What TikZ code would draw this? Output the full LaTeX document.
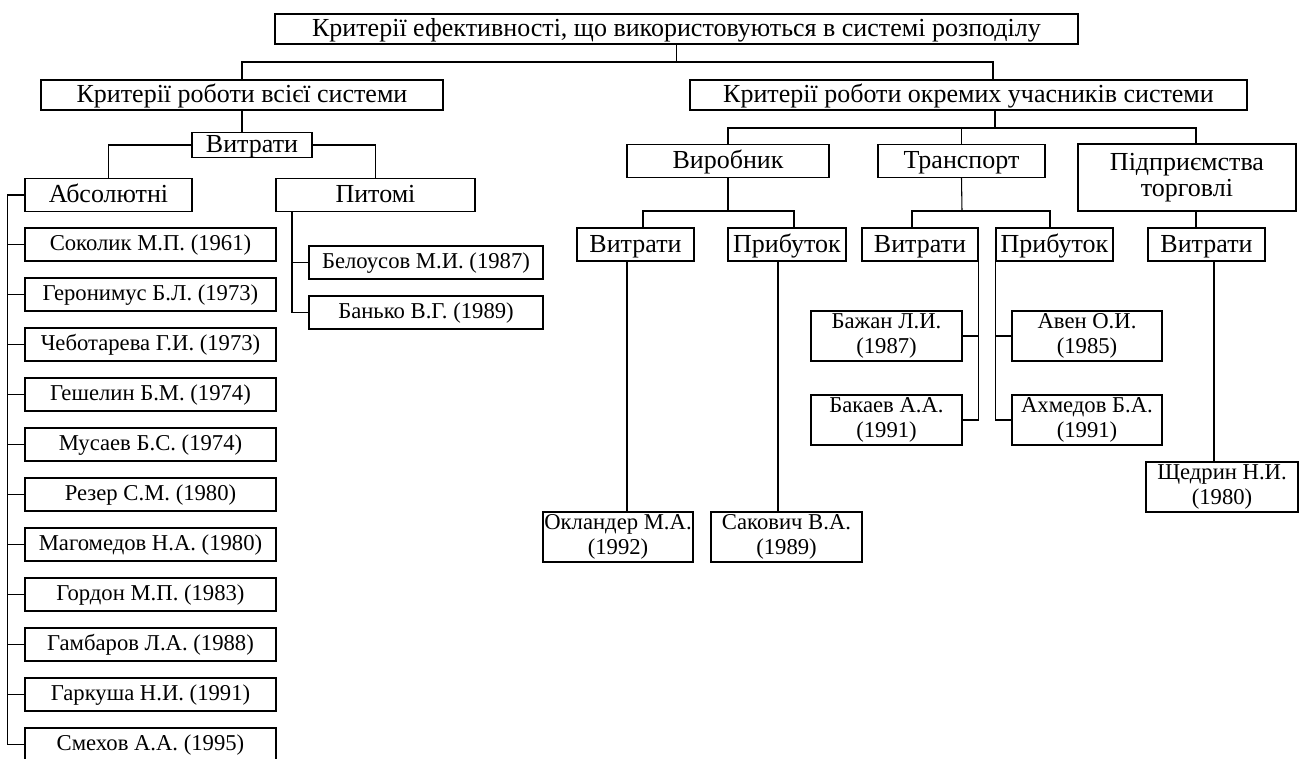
\documentclass[tikz,border=0pt]{standalone}
\usepackage{fontspec}
\setmainfont{Liberation Serif}
\begin{document}
\begin{tikzpicture}[x=0.75pt,y=-0.75pt,line width=0.8pt,
    box/.style={draw, inner sep=0pt, font=\fontsize{19.5}{21}\selectfont, text height=15pt, text depth=3.8pt, minimum height=22.5pt},
    sub/.style={draw, inner sep=0pt, font=\fontsize{19.5}{21}\selectfont, text height=15.4pt, text depth=3.8pt, minimum height=24.75pt},
    person/.style={draw, inner sep=0pt, font=\fontsize{17}{18}\selectfont, text height=13pt, text depth=3.6pt, minimum width=188.25pt, minimum height=24.75pt},
    twoline/.style={draw, inner sep=0pt, align=center, font=\fontsize{17}{19}\selectfont, minimum height=37.5pt}]
    \useasboundingbox (0,0) rectangle (1300,758);
    \node[box, minimum width=602.25pt] (top) at (676.5,29) {Критерії ефективності, що використовуються в системі розподілу};
    \node[box, minimum width=301.5pt] (sys) at (242,95) {Критерії роботи всієї системи};
    \node[box, minimum width=417.75pt] (part) at (968.5,95) {Критерії роботи окремих учасників системи};
    \node[box, minimum width=90pt, minimum height=18.75pt] (vyt) at (252,145) {Витрати};
    \node[sub, minimum width=125.25pt] (abs) at (108.5,195) {Абсолютні};
    \node[sub, minimum width=149.25pt] (pyt) at (375.5,195) {Питомі};
    \node[person] (n1) at (150.5,244.5) {Соколик М.П. (1961)};
    \node[person] (n2) at (150.5,294.5) {Геронимус Б.Л. (1973)};
    \node[person] (n3) at (150.5,344.5) {Чеботарева Г.И. (1973)};
    \node[person] (n4) at (150.5,394.5) {Гешелин Б.М. (1974)};
    \node[person] (n5) at (150.5,444.5) {Мусаев Б.С. (1974)};
    \node[person] (n6) at (150.5,494.5) {Резер С.М. (1980)};
    \node[person] (n7) at (150.5,544.5) {Магомедов Н.А. (1980)};
    \node[person] (n8) at (150.5,594.5) {Гордон М.П. (1983)};
    \node[person] (n9) at (150.5,644.5) {Гамбаров Л.А. (1988)};
    \node[person] (n10) at (150.5,694.5) {Гаркуша Н.И. (1991)};
    \node[person] (n11) at (150.5,744.5) {Смехов А.А. (1995)};
    \node[person, minimum width=175.5pt] (bel) at (426,262.5) {Белоусов М.И. (1987)};
    \node[person, minimum width=175.5pt] (ban) at (426,312.5) {Банько В.Г. (1989)};
    \node[sub, minimum width=151.5pt] (vyr) at (728,161) {Виробник};
    \node[sub, minimum width=125.25pt] (tra) at (961.5,161) {Транспорт};
    \node[draw, inner sep=0pt, font=\fontsize{19.5}{19}\selectfont, minimum width=163.5pt, minimum height=50.25pt, align=center] (trg) at (1187,177.5) {Підприємства\\торговлі};
    \node[sub, minimum width=87.75pt] (vv) at (635.5,244.5) {Витрати};
    \node[sub, minimum width=88.5pt] (vp) at (787,244.5) {Прибуток};
    \node[sub, minimum width=87pt] (tv) at (920,244.5) {Витрати};
    \node[sub, minimum width=87.75pt] (tp) at (1054.5,244.5) {Прибуток};
    \node[sub, minimum width=87.75pt] (gv) at (1206.5,244.5) {Витрати};
    \node[twoline, minimum width=113.25pt] (baz) at (886.5,336) {Бажан Л.И.\\(1987)};
    \node[twoline, minimum width=113.25pt] (bak) at (886.5,420) {Бакаев А.А.\\(1991)};
    \node[twoline, minimum width=112.5pt] (ave) at (1087,336) {Авен О.И.\\(1985)};
    \node[twoline, minimum width=112.5pt] (ahm) at (1087,420) {Ахмедов Б.А.\\(1991)};
    \node[twoline, minimum width=112.5pt] (okl) at (618,537) {Окландер М.А.\\(1992)};
    \node[twoline, minimum width=113.25pt] (sak) at (786.5,537) {Сакович В.А.\\(1989)};
    \node[twoline, minimum width=114pt] (shc) at (1222,487) {Щедрин Н.И.\\(1980)};
    \coordinate (j0) at (993,62);
    \coordinate (j1) at (995,128);
    \coordinate (j2) at (1196,128);
    \coordinate (jv) at (728,211);
    \coordinate (jv1) at (643,211);
    \coordinate (jv2) at (794,211);
    \coordinate (jt) at (962,211);
    \coordinate (jt1) at (912,211);
    \coordinate (jt2) at (1050,211);
    \coordinate (lv) at (627,261);
    \coordinate (lp) at (778,261);
    \coordinate (lg) at (1214,261);
    \coordinate (lw) at (292,212);
    \draw (top.south) -- (top.south |- j0);
    \draw (sys.north) |- (j0) -- (part.north -| j0);
    \draw (sys.south) -- (sys.south |- vyt.north);
    \draw (vyt.west) -| (abs.north);
    \draw (vyt.east) -| (pyt.north);
    \draw (abs.west) -- ++(-17,0) |- (n11.west);
    \draw (n1.west) -- ++(-17,0);
    \draw (n2.west) -- ++(-17,0);
    \draw (n3.west) -- ++(-17,0);
    \draw (n4.west) -- ++(-17,0);
    \draw (n5.west) -- ++(-17,0);
    \draw (n6.west) -- ++(-17,0);
    \draw (n7.west) -- ++(-17,0);
    \draw (n8.west) -- ++(-17,0);
    \draw (n9.west) -- ++(-17,0);
    \draw (n10.west) -- ++(-17,0);
    \draw (lw) |- (ban.west);
    \draw (bel.west) -- (bel.west -| lw);
    \draw (part.south -| j1) -- (j1);
    \draw (vyr.north) |- (j2) -- (trg.north -| j2);
    \draw (tra.north) -- (tra.north |- j1);
    \draw (vyr.south) -- (jv);
    \draw (jv1 |- vv.north) -- (jv1) -- (jv2) -- (jv2 |- vp.north);
    \draw (tra.south) -- (jt);
    \draw (jt1 |- tv.north) -- (jt1) -- (jt2) -- (jt2 |- tp.north);
    \draw (trg.south -| j2) -- (gv.north -| j2);
    \draw (lv) -- (lv |- okl.north);
    \draw (lp) -- (lp |- sak.north);
    \draw (lg) -- (lg |- shc.north);
    \draw (tv.south east) |- (bak.east);
    \draw (baz.east) -- (baz.east -| tv.east);
    \draw (tp.south west) |- (ahm.west);
    \draw (ave.west) -- (ave.west -| tp.west);
\end{tikzpicture}
\end{document}
